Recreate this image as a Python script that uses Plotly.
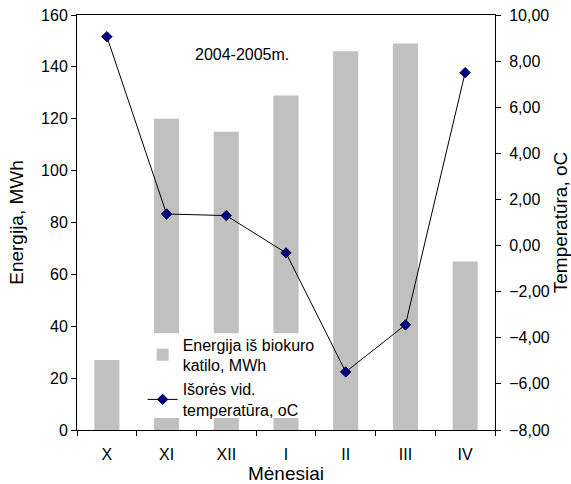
import plotly.graph_objects as go

months = ["X", "XI", "XII", "I", "II", "III", "IV"]
energy_mwh = [27, 120, 115, 129, 146, 149, 65]
temp_c = [9.06, 1.37, 1.30, -0.32, -5.48, -3.44, 7.50]

FONT = "Liberation Sans, Arial, sans-serif"

fig = go.Figure()

fig.add_trace(go.Bar(
    x=months, y=energy_mwh,
    name="Energija iš biokuro<br>katilo, MWh",
    marker=dict(color="#C0C0C0", line=dict(width=0)),
    width=0.42,
    yaxis="y",
))

fig.add_trace(go.Scatter(
    x=months, y=temp_c,
    name="Išorės vid.<br>temperatūra, oC",
    mode="lines+markers",
    line=dict(color="black", width=1),
    marker=dict(symbol="diamond", size=8, color="#000080",
                line=dict(color="#000040", width=1)),
    yaxis="y2",
))

# white backdrop behind the legend entries (legend itself is transparent)
fig.add_shape(
    type="rect", xref="paper", yref="paper",
    x0=0.118, x1=0.585, y0=0.029, y1=0.233,
    fillcolor="white", line=dict(width=0), layer="above",
)

fig.update_layout(
    width=571, height=484,
    margin=dict(l=77, r=76, t=15, b=54, autoexpand=False),
    paper_bgcolor="white", plot_bgcolor="white",
    font=dict(family=FONT, size=16, color="black"),
    separators=", ",
    showlegend=True,
    legend=dict(
        x=0.157, xanchor="left", y=0.247, yanchor="top",
        bgcolor="rgba(0,0,0,0)", borderwidth=0,
        font=dict(size=16), tracegroupgap=4,
        itemwidth=30,
    ),
    xaxis=dict(
        showline=True, linecolor="black", linewidth=1, mirror=True,
        ticks="outside", ticklen=5, tickcolor="black",
        tickson="boundaries", showgrid=False,
        ticklabelstandoff=10,
        title=dict(text="Mėnesiai", standoff=1),
        automargin=False,
    ),
    yaxis=dict(
        range=[0, 160], dtick=20, tickformat="d",
        showline=True, linecolor="black", linewidth=1,
        ticks="outside", ticklen=5, tickcolor="black",
        showgrid=False, zeroline=False,
        title=dict(text="Energija, MWh", standoff=12),
        automargin=False,
    ),
    yaxis2=dict(
        range=[-8, 10], dtick=2, tickformat=".2f",
        overlaying="y", side="right",
        showline=True, linecolor="black", linewidth=1,
        ticks="outside", ticklen=5, tickcolor="black",
        ticklabelstandoff=5,
        showgrid=False, zeroline=False,
        title=dict(text="Temperatūra, oC", standoff=12),
        automargin=False,
    ),
    annotations=[dict(
        text="2004-2005m.", x=0.395, y=0.93, xref="paper", yref="paper",
        showarrow=False, font=dict(size=16),
    )],
)

fig.write_html("out.html")
